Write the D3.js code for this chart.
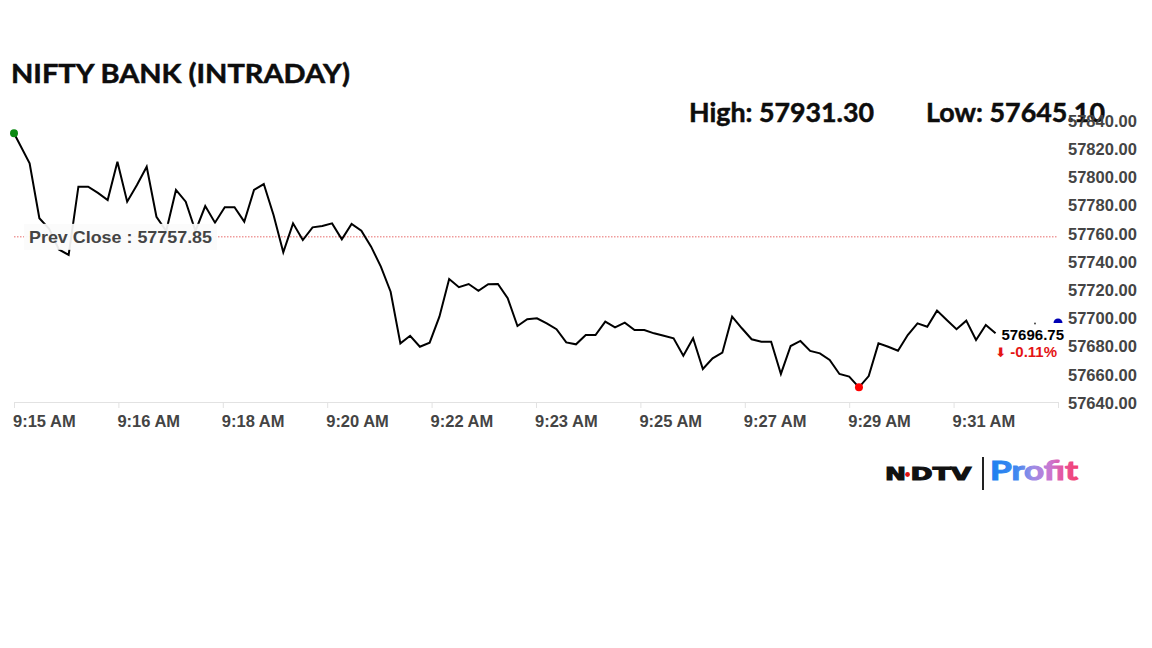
<!DOCTYPE html>
<html><head><meta charset="utf-8">
<script src="https://cdn.jsdelivr.net/npm/d3@7"></script>
<style>html,body{margin:0;padding:0;background:#fff;} svg{display:block}</style>
</head><body><svg id="chart" width="1152" height="648"></svg>
<script>
// ---------- data ----------
const chartTitle = "NIFTY BANK (INTRADAY)";
const highLabel = "High: 57931.30";
const lowLabel = "Low: 57645.10";
const prevClose = 57757.85;
const lastPrice = 57696.75;
const changePct = "-0.11%";
const sessionStart = "09:15:00";
const sessionEnd = "09:32:50";
// seconds after session start for each sample (first print, then 10-second samples)
const sampleOffsets = [0].concat(d3.range(16, 1016, 10));
const values = [
  57831.3, 57810.0, 57771.0, 57763.6, 57748.9, 57745.0, 57793.4, 57793.4, 57789.0, 57784.0,
  57811.1, 57782.8, 57794.6, 57807.6, 57772.1, 57762.0, 57791.1, 57782.8, 57762.0, 57779.7,
  57767.9, 57778.8, 57778.8, 57768.6, 57791.1, 57795.3, 57773.3, 57746.9, 57767.4, 57755.6,
  57764.6, 57765.5, 57767.4, 57756.1, 57767.0, 57762.2, 57750.9, 57736.7, 57718.9, 57682.3,
  57687.7, 57679.9, 57682.8, 57701.2, 57727.9, 57722.1, 57724.4, 57719.6, 57724.2, 57724.4,
  57714.3, 57694.6, 57699.4, 57700.1, 57696.5, 57692.3, 57683.0, 57681.6, 57688.2, 57688.2,
  57697.7, 57693.7, 57697.0, 57691.8, 57691.8, 57689.4, 57687.7, 57685.9, 57673.5, 57685.9,
  57664.1, 57671.7, 57675.7, 57701.2, 57693.0, 57685.2, 57683.5, 57683.5, 57660.6, 57680.4,
  57684.0, 57676.9, 57675.2, 57670.5, 57660.6, 57658.7, 57651.1, 57659.1, 57682.3, 57679.9,
  57677.1, 57688.2, 57696.5, 57694.1, 57705.5, 57698.9, 57692.3, 57698.4, 57684.7, 57695.3,
  57689.4
];
const yTicks = [57640, 57660, 57680, 57700, 57720, 57740, 57760, 57780, 57800, 57820, 57840];
const xTickLabels = ["9:15 AM","9:16 AM","9:18 AM","9:20 AM","9:22 AM","9:23 AM","9:25 AM","9:27 AM","9:29 AM","9:31 AM",""];

// ---------- scales ----------
const parse = d3.timeParse("%H:%M:%S");
const t0 = parse(sessionStart), t1 = parse(sessionEnd);
const data = values.map((v, i) => ({t: new Date(t0.getTime() + sampleOffsets[i] * 1000), v}));

const svg = d3.select("#chart");
const x = d3.scaleTime().domain([t0, t1]).range([14, 1058]);
const y = d3.scaleLinear().domain([57640, 57840]).range([403, 121]);
const axisFont = "'Liberation Sans', Arial, sans-serif";
const headFont = "Lato, 'Open Sans', sans-serif";

// ---------- titles ----------
function heading(txt, xPos, yPos, size, len) {
  svg.append("text").attr("x", xPos).attr("y", yPos)
    .attr("font-family", headFont).attr("font-weight", 700)
    .attr("font-size", size).attr("fill", "#0d0d0d")
    .attr("stroke", "#0d0d0d").attr("stroke-width", 0.5)
    .attr("textLength", len).attr("lengthAdjust", "spacingAndGlyphs")
    .text(txt);
}
heading(chartTitle, 11, 83, 26, 339);
heading(highLabel, 689, 121.5, 27, 185);
heading(lowLabel, 926, 121.5, 27, 179);

// ---------- axes ----------
const xTickVals = d3.range(0, 11).map(i => new Date(t0.getTime() + (t1 - t0) * i / 10));
const gx = svg.append("g").attr("transform", "translate(0,402)")
  .call(d3.axisBottom(x).tickValues(xTickVals).tickSize(6).tickPadding(7)
    .tickFormat((d, i) => xTickLabels[i]));
gx.select(".domain").attr("stroke", "#e2e2e2");
gx.selectAll(".tick line").attr("stroke", "#e2e2e2");
gx.selectAll(".tick text").attr("text-anchor", "start").attr("dx", -1.5)
  .attr("font-family", axisFont).attr("font-weight", 700).attr("font-size", 16.5).attr("fill", "#444");

const gy = svg.append("g").attr("transform", "translate(1058,0)")
  .call(d3.axisRight(y).tickValues(yTicks).tickSize(0).tickPadding(10).tickFormat(d3.format(".2f")));
gy.select(".domain").remove();
gy.selectAll(".tick text")
  .attr("font-family", axisFont).attr("font-weight", 700).attr("font-size", 16.5).attr("fill", "#444");

// ---------- prev close line ----------
svg.append("line").attr("x1", 14).attr("x2", 1058)
  .attr("y1", y(prevClose)).attr("y2", y(prevClose))
  .attr("stroke", "#e86a6a").attr("stroke-width", 1).attr("stroke-dasharray", "1.5,1.5");

// ---------- price line ----------
svg.append("path").datum(data)
  .attr("fill", "none").attr("stroke", "#000").attr("stroke-width", 2)
  .attr("d", d3.line().x(d => x(d.t)).y(d => y(d.v)));

// prev close label
svg.append("rect").attr("x", 24).attr("y", y(prevClose) - 13).attr("width", 193).attr("height", 26)
  .attr("fill", "#fbfbfb").attr("opacity", 0.93);
svg.append("text").attr("x", 29).attr("y", y(prevClose) + 6.5)
  .attr("font-family", axisFont).attr("font-weight", 700).attr("font-size", 16.5).attr("fill", "#444")
  .attr("textLength", 183).attr("lengthAdjust", "spacingAndGlyphs")
  .text("Prev Close : " + d3.format(".2f")(prevClose));

// ---------- markers ----------
const first = data[0];
const low = data.reduce((a, b) => (b.v < a.v ? b : a));
svg.append("circle").attr("cx", x(first.t)).attr("cy", y(first.v)).attr("r", 4).attr("fill", "#0b8a12");
svg.append("circle").attr("cx", x(low.t)).attr("cy", y(low.v)).attr("r", 4).attr("fill", "#f00");
const bx = x(t1), by = y(lastPrice);
svg.append("path")
  .attr("d", `M${bx - 4.5},${by} A4.5,4.5 0 0 1 ${bx + 4.5},${by} Z`)
  .attr("fill", "#0000b4");
svg.append("circle").attr("cx", bx - 23).attr("cy", by + 0.5).attr("r", 0.9).attr("fill", "#333");

svg.append("text").attr("x", 1064).attr("y", by + 17)
  .attr("text-anchor", "end").attr("font-family", axisFont).attr("font-weight", 700)
  .attr("font-size", 15).attr("fill", "#000").text(d3.format(".2f")(lastPrice));
const chg = svg.append("text").attr("x", 1057).attr("y", by + 34)
  .attr("text-anchor", "end").attr("font-family", axisFont).attr("font-weight", 700)
  .attr("font-size", 15).attr("fill", "#e41414");
chg.append("tspan").attr("font-family", "'DejaVu Sans', sans-serif").attr("font-size", 13).text("\u2B07");
chg.append("tspan").text(" " + changePct);

// ---------- logo ----------
const defs = svg.append("defs");
const grad = defs.append("linearGradient").attr("id", "pg")
  .attr("gradientUnits", "userSpaceOnUse").attr("x1", 990).attr("x2", 1078).attr("y1", 0).attr("y2", 0);
[[0, "#1a7ff0"], [0.3, "#3f88f0"], [0.48, "#9b8ce6"], [0.68, "#c877d2"], [0.85, "#ea4f97"], [1, "#f2406f"]]
  .forEach(([o, c]) => grad.append("stop").attr("offset", o).attr("stop-color", c));

const logoFont = "'DejaVu Sans', sans-serif";
svg.append("text").attr("x", 885).attr("y", 479.5)
  .attr("font-family", logoFont).attr("font-weight", 700).attr("font-size", 17)
  .attr("fill", "#111").attr("stroke", "#111").attr("stroke-width", 1)
  .attr("textLength", 21).attr("lengthAdjust", "spacingAndGlyphs").text("N");
svg.append("text").attr("x", 910.5).attr("y", 479.5)
  .attr("font-family", logoFont).attr("font-weight", 700).attr("font-size", 17)
  .attr("fill", "#111").attr("stroke", "#111").attr("stroke-width", 1)
  .attr("textLength", 61).attr("lengthAdjust", "spacingAndGlyphs").text("DTV");
svg.append("circle").attr("cx", 907.5).attr("cy", 474.5).attr("r", 2.4).attr("fill", "#e01010");
svg.append("line").attr("x1", 983).attr("x2", 983).attr("y1", 457).attr("y2", 490)
  .attr("stroke", "#222").attr("stroke-width", 2);
svg.append("text").attr("x", 990).attr("y", 480)
  .attr("font-family", headFont).attr("font-weight", 700).attr("font-size", 26)
  .attr("fill", "url(#pg)").attr("stroke", "url(#pg)").attr("stroke-width", 1)
  .attr("textLength", 88).attr("lengthAdjust", "spacingAndGlyphs").text("Profit");
</script>
</body></html>
